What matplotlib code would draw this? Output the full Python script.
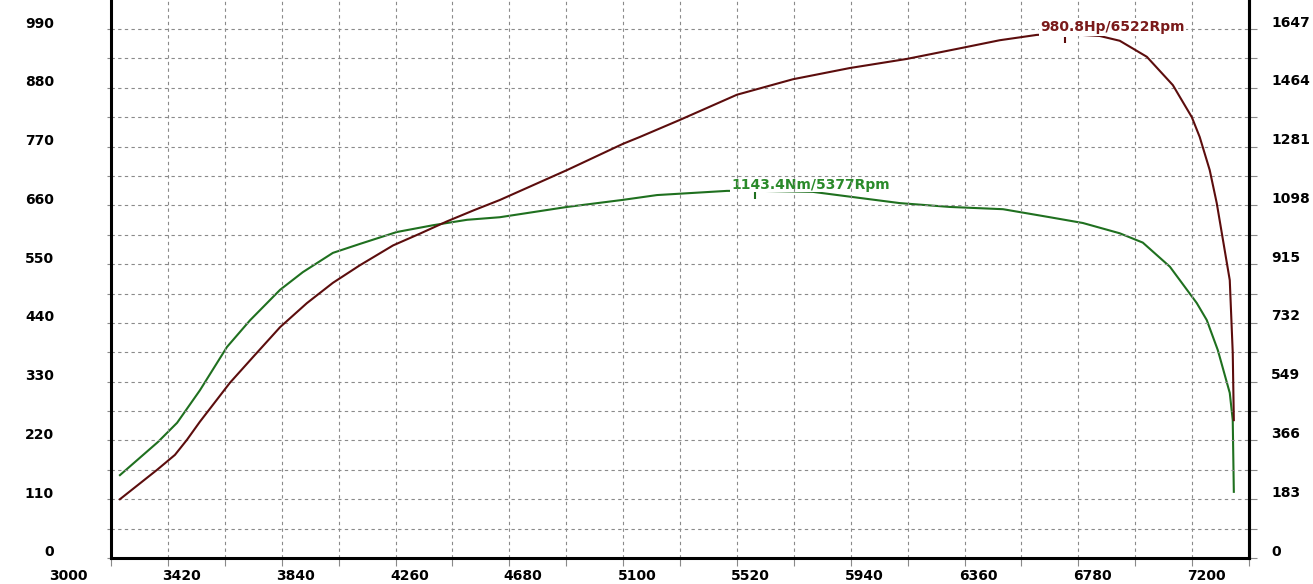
import matplotlib
matplotlib.use("Agg")
import matplotlib.pyplot as plt
from matplotlib.transforms import ScaledTranslation
import numpy as np

# ---- data ----
power_rpm = [3033, 3170, 3236, 3280, 3328, 3439, 3524, 3624, 3723, 3819, 3919, 4041,
             4140, 4240, 4340, 4435, 4683, 4889, 4952, 5100, 5310, 5517, 5727, 5937,
             6144, 6280, 6417, 6522, 6649, 6723, 6823, 6919, 6989, 7018, 7055, 7081,
             7129, 7140, 7144]
power_hp = [110, 165, 193, 221, 255, 328, 376, 432, 477, 515, 548, 585,
            607, 630, 651, 670, 726, 775, 788, 820, 867, 896, 917, 934,
            955, 969, 979, 980.8, 977, 968, 938, 885, 825, 788, 726, 664,
            520, 384, 258]

torque_rpm = [3033, 3173, 3244, 3328, 3428, 3513, 3624, 3708, 3819, 3919, 4055, 4188,
              4314, 4435, 4683, 4889, 5015, 5273, 5377, 5590, 5727, 5911, 6096, 6292,
              6465, 6587, 6723, 6808, 6908, 7007, 7044, 7085, 7129, 7140, 7144]
torque_nm = [258, 361, 421, 522, 657, 740, 835, 890, 950, 978, 1015, 1036,
             1053, 1061, 1093, 1115, 1130, 1143, 1143.4, 1140, 1125, 1105, 1093, 1086,
             1061, 1043, 1011, 982, 907, 794, 741, 647, 514, 429, 206]

peak_power = (6522, 980.8)
peak_torque = (5377, 1143.4)

x_ticks = [3000, 3420, 3840, 4260, 4680, 5100, 5520, 5940, 6360, 6780, 7200]
left_ticks = [0, 110, 220, 330, 440, 550, 660, 770, 880, 990]
right_ticks = [0, 183, 366, 549, 732, 915, 1098, 1281, 1464, 1647]

POWER_C = "#5c0d0d"
POWER_TXT = "#7a1a1a"
TORQUE_C = "#1f701f"
TORQUE_TXT = "#2a8a2a"
GRID_C = "#8a8a8a"

W, H = 1313, 584
fig = plt.figure(figsize=(W / 100, H / 100), dpi=100, facecolor="white")
ax = fig.add_axes([111 / W, (H - 558) / H, (1249 - 111) / W, 558 / H])
ax2 = ax.twinx()

top_left = 1044.3
ratio = right_ticks[-1] / left_ticks[-1]
ax.set_xlim(3000, 7200)
ax.set_ylim(0, top_left)
ax2.set_ylim(0, top_left * ratio)

# grid
dash = (0, (3, 3))
ax.set_xticks(x_ticks)
ax.set_xticks(np.arange(3210, 7200, 420), minor=True)
ax.set_yticks(left_ticks)
ax.set_yticks(np.arange(55, 1044, 110), minor=True)
ax.grid(True, which="both", color=GRID_C, linestyle=dash, linewidth=0.8)
ax.set_axisbelow(True)

ax2.set_yticks(right_ticks)
ax2.set_yticks(np.arange(91.5, 1737, 183), minor=True)

font = dict(family="DejaVu Sans", weight="bold", size=10)
ax.set_xticklabels([str(v) for v in x_ticks], fontdict=font)
ax.set_yticklabels([str(v) for v in left_ticks], fontdict=font)
ax2.set_yticklabels([str(v) for v in right_ticks], fontdict=font)

ax.tick_params(axis="x", which="both", direction="out", length=6, width=0.8,
               color=GRID_C, pad=2)
ax.tick_params(axis="y", which="both", direction="out", length=3, width=0.8,
               color=GRID_C, pad=38)
ax2.tick_params(axis="y", which="both", direction="out", length=6, width=0.8,
                color=GRID_C, pad=10)

dpi_t = fig.dpi_scale_trans
for lab in ax.get_xticklabels():
    lab.set_transform(lab.get_transform() + ScaledTranslation(-43 / 100, 0, dpi_t))
for lab in ax.get_yticklabels():
    lab.set_transform(lab.get_transform() + ScaledTranslation(0, 7 / 100, dpi_t))
for lab in ax2.get_yticklabels():
    lab.set_transform(lab.get_transform() + ScaledTranslation(0, 8 / 100, dpi_t))

for a in (ax, ax2):
    for s in ("left", "bottom", "right"):
        a.spines[s].set_color("black")
        a.spines[s].set_linewidth(2.2)
    a.spines["top"].set_visible(False)
ax2.spines["left"].set_visible(False)
ax2.spines["bottom"].set_visible(False)

# curves
ax2.plot(torque_rpm, torque_nm, color=TORQUE_C, linewidth=1.5, zorder=3)
ax.plot(power_rpm, power_hp, color=POWER_C, linewidth=1.5, zorder=3)
ax.set_zorder(ax2.get_zorder() + 1)
ax.patch.set_visible(False)

# peak markers and labels
ax.plot([peak_power[0]], [peak_power[1]], marker="|", markersize=5, color=POWER_C,
        markeredgewidth=1.5,
        transform=ax.transData + ScaledTranslation(0, -6 / 100, dpi_t), zorder=5)
ax.annotate(f"{peak_power[1]}Hp/{peak_power[0]}Rpm", xy=peak_power,
            xytext=(-25 * 0.72, 7 * 0.72), textcoords="offset points",
            ha="left", va="center", color=POWER_TXT, fontsize=10,
            fontweight="bold", family="DejaVu Sans", zorder=6,
            bbox=dict(boxstyle="square,pad=0.12", fc="white", ec="none"))

ax2.plot([peak_torque[0]], [peak_torque[1]], marker="|", markersize=8, color=TORQUE_C,
         markeredgewidth=1.5,
         transform=ax2.transData + ScaledTranslation(0, -2 / 100, dpi_t), zorder=5)
ax2.annotate(f"{peak_torque[1]}Nm/{peak_torque[0]}Rpm", xy=peak_torque,
             xytext=(-24 * 0.72, 6 * 0.72), textcoords="offset points",
             ha="left", va="center", color=TORQUE_TXT, fontsize=10,
             fontweight="bold", family="DejaVu Sans", zorder=6,
             bbox=dict(boxstyle="square,pad=0.05", fc="white", ec="none"))

fig.savefig("out.png", dpi=100, facecolor="white")
